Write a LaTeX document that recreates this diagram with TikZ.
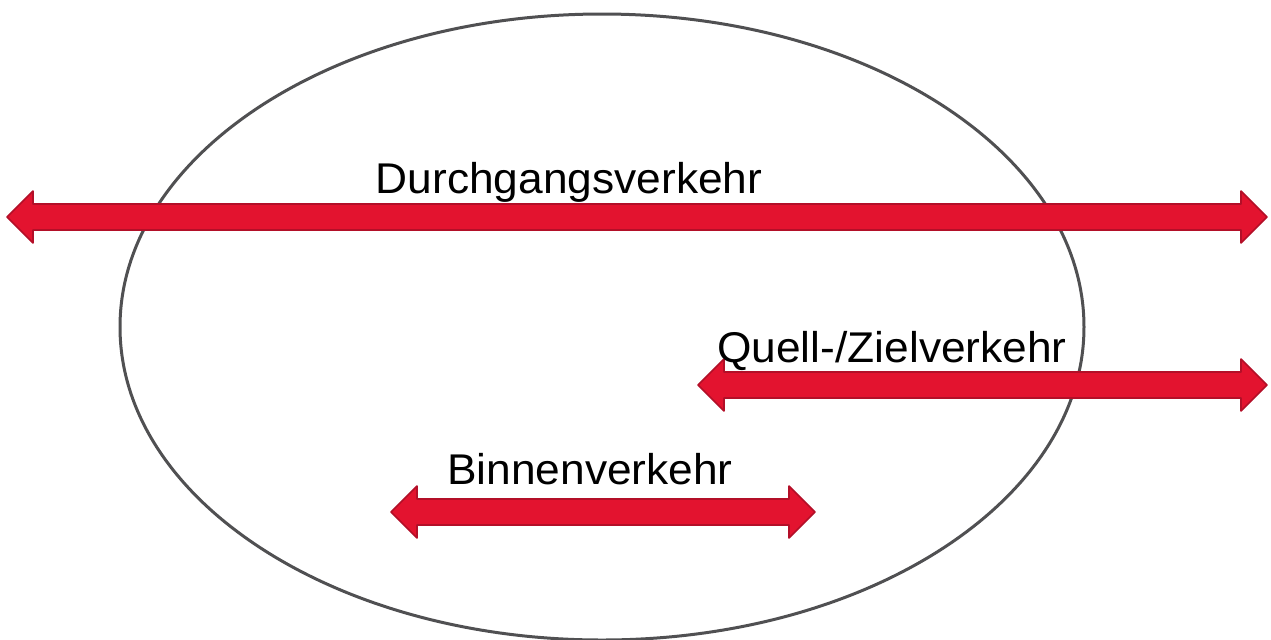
\documentclass[tikz,border=0pt]{standalone}
\usepackage{fontspec}
\setmainfont{Liberation Sans}
\usetikzlibrary{calc}
\definecolor{arrred}{HTML}{E3132F}
\definecolor{arredge}{HTML}{B30F28}
\definecolor{ringgray}{HTML}{505052}
\newcommand\redarrow[2]{%
  \filldraw[blockarr] (#1) -- ++(26,-26) -- ++(0,13) -- ($(#2)+(-26,-13)$) -- ++(0,-13) -- (#2)
    -- ++(-26,26) -- ++(0,-13) -- ($(#1)+(26,13)$) -- ++(0,13) -- cycle;}
\begin{document}
\begin{tikzpicture}[x=0.5pt,y=-0.5pt,
  blockarr/.style={fill=arrred,draw=arredge,line width=0.8pt,line join=round},
  ring/.style={draw=ringgray,line width=1.5pt},
  lbl/.style={font=\fontsize{21.5pt}{25pt}\selectfont,inner sep=0pt,anchor=base}]
\useasboundingbox (0,0) rectangle (1271,639);
\draw[ring] (602,327) ellipse [x radius=482, y radius=313];
\coordinate (a1l) at (7,217);
\coordinate (a1r) at (1267,217);
\coordinate (a2l) at (698,385);
\coordinate (a2r) at (1267,385);
\coordinate (a3l) at (391,512);
\coordinate (a3r) at (815,512);
\redarrow{a1l}{a1r}
\redarrow{a2l}{a2r}
\redarrow{a3l}{a3r}
\node[lbl] (t1) at (569,193) {\scalebox{1.03}[1]{Durchgangsverkehr}};
\node[lbl] (t2) at (892,362) {\scalebox{1.03}[1]{Quell-/Zielverkehr}};
\node[lbl] (t3) at (590,484) {\scalebox{1.03}[1]{Binnenverkehr}};
\end{tikzpicture}
\end{document}
